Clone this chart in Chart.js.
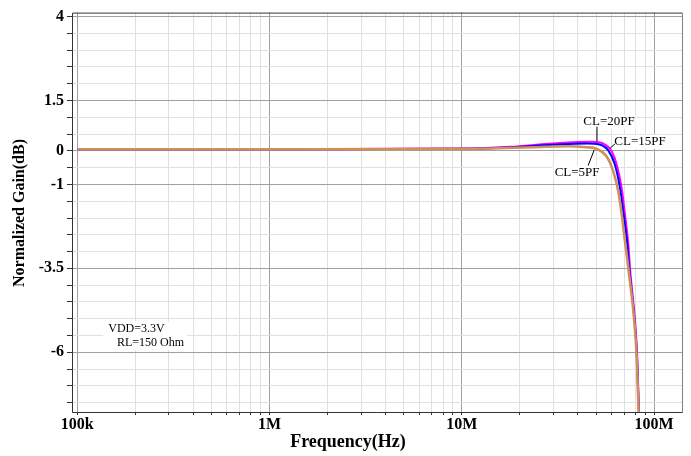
<!DOCTYPE html>
<html><head><meta charset="utf-8">
<script src="https://cdn.jsdelivr.net/npm/chart.js@4"></script>
<style>html,body{margin:0;padding:0;background:#fff}canvas{display:block}</style>
</head><body>
<canvas id="c" width="691" height="456"></canvas>
<script>
// ---- data (frequency in Hz, normalized gain in dB) ----
const freq20 = [1e5, 1e6, 1e7, 1.78e7, 2.98e7, 4.8e7, 5.43e7, 6.03e7, 6.4e7, 6.79e7, 7.06e7, 7.35e7, 7.5e7, 8.16e7, 8.36e7, 8.45e7];
const gain20 = [0.05, 0.05, 0.07, 0.12, 0.22, 0.27, 0.22, -0.02, -0.41, -1.11, -1.89, -2.78, -3.49, -6.0, -7.78, -8.3];

const freq15 = [1e5, 1e6, 1e7, 1.78e7, 2.98e7, 4.5e7, 5.2e7, 5.8e7, 6.25e7, 6.65e7, 6.95e7, 7.25e7, 7.43e7, 8.13e7, 8.34e7, 8.43e7];
const gain15 = [0.05, 0.05, 0.06, 0.10, 0.18, 0.22, 0.19, 0.0, -0.40, -1.10, -1.90, -2.75, -3.49, -6.0, -7.78, -8.3];

const freq5 = [1e5, 1e6, 1e7, 2.35e7, 3.53e7, 4.46e7, 5.03e7, 5.67e7, 6.14e7, 6.52e7, 6.79e7, 7.06e7, 7.35e7, 8.1e7, 8.32e7, 8.4e7];
const gain5 = [0.05, 0.05, 0.06, 0.11, 0.14, 0.11, 0.06, -0.17, -0.62, -1.21, -1.89, -2.69, -3.49, -6.0, -7.78, -8.3];

const seriesNames = ['CL=5PF', 'CL=15PF', 'CL=20PF'];

// ---- axes ----
const xDecades = [1e5, 1e6, 1e7, 1e8];
const xDecadeLabels = ['100k', '1M', '10M', '100M'];
const xMin = 9.39e4, xMax = 1.398e8;
const yLabeled = [4, 1.5, 0, -1, -3.5, -6];
const yMin = -7.78, yMax = 4.12, yStep = 0.5;

// ---- annotations (anchored in data units) ----
const noteLines = ['VDD=3.3V', 'RL=150 Ohm'];
const noteAnchors = [[1.45e5, -5.29], [1.61e5, -5.73]];
const curveLabelText = ['CL=20PF', 'CL=15PF', 'CL=5PF'];
const curveLabelAt = [[5.83e7, 0.86], [8.46e7, 0.27], [3.98e7, -0.645]];
const leaderFrom = [[5.05e7, 0.72], [6.27e7, 0.21], [4.54e7, -0.44]];
const leaderTo = [[5.05e7, 0.28], [5.91e7, 0.08], [4.88e7, 0.02]];

const xTickValues = [];
xDecades.forEach(d => {
  for (let m = 1; m <= 9; m++) {
    const v = d * m;
    if (v >= xMin && v <= xMax) xTickValues.push(v);
  }
});
const isDecade = v => xDecades.some(d => Math.abs(v / d - 1) < 1e-9);
const isYLab = v => yLabeled.some(l => Math.abs(v - l) < 1e-9);

const pts = (f, g) => f.map((x, i) => ({x, y: g[i]}));

const serif = 'Liberation Serif, Times New Roman, serif';

const deco = {
  id: 'deco',
  beforeDatasetsDraw(chart) {
    const {ctx, chartArea: a} = chart;
    ctx.save();
    ctx.lineWidth = 1;
    ctx.strokeStyle = '#333';
    ctx.beginPath();
    ctx.moveTo(a.left + 0.5, a.top + 0.5);
    ctx.lineTo(a.left + 0.5, a.bottom + 0.5);
    ctx.lineTo(a.right + 0.5, a.bottom + 0.5);
    ctx.moveTo(a.left + 0.5, a.top + 0.5);
    ctx.lineTo(a.right + 0.5, a.top + 0.5);
    ctx.stroke();
    ctx.strokeStyle = '#808080';
    ctx.beginPath();
    ctx.moveTo(a.right + 0.5, a.top + 0.5);
    ctx.lineTo(a.right + 0.5, a.bottom + 0.5);
    ctx.stroke();
    ctx.restore();
  },
  afterDraw(chart) {
    const {ctx, scales: {x, y}} = chart;
    const P = p => [x.getPixelForValue(p[0]), y.getPixelForValue(p[1])];
    ctx.save();
    // note box
    ctx.font = '12px ' + serif;
    const n0 = P(noteAnchors[0]), n1 = P(noteAnchors[1]);
    const w = Math.max(n0[0] + ctx.measureText(noteLines[0]).width, n1[0] + ctx.measureText(noteLines[1]).width);
    ctx.fillStyle = '#fff';
    ctx.fillRect(n0[0] - 5, n0[1] - 7, w - n0[0] + 8, n1[1] - n0[1] + 14);
    ctx.fillStyle = '#000';
    ctx.textBaseline = 'middle';
    ctx.textAlign = 'left';
    ctx.fillText(noteLines[0], n0[0], n0[1]);
    ctx.fillText(noteLines[1], n1[0], n1[1]);
    // curve labels
    ctx.font = '13px ' + serif;
    ctx.textAlign = 'center';
    curveLabelText.forEach((t, i) => {
      const p = P(curveLabelAt[i]);
      const tw = ctx.measureText(t).width;
      ctx.fillStyle = '#fff';
      ctx.fillRect(p[0] - tw / 2 - 1, p[1] - 7, tw + 2, 14);
      ctx.fillStyle = '#000';
      ctx.fillText(t, p[0], p[1]);
      const f = P(leaderFrom[i]), g = P(leaderTo[i]);
      ctx.strokeStyle = '#000';
      ctx.lineWidth = 1;
      ctx.beginPath();
      ctx.moveTo(f[0], f[1]);
      ctx.lineTo(g[0], g[1]);
      ctx.stroke();
    });
    // axis titles
    ctx.fillStyle = '#000';
    ctx.font = 'bold 18px ' + serif;
    ctx.textAlign = 'center';
    ctx.fillText('Frequency(Hz)', 348, 442);
    ctx.save();
    ctx.translate(20, 213);
    ctx.rotate(-Math.PI / 2);
    ctx.font = 'bold 16px ' + serif;
    ctx.fillText('Normalized Gain(dB)', 0, 0);
    ctx.restore();
    ctx.restore();
  }
};

new Chart(document.getElementById('c'), {
  type: 'line',
  data: {
    datasets: [
      {label: seriesNames[0], data: pts(freq5, gain5), borderColor: '#D0905C', borderWidth: 2.6},
      {label: seriesNames[1], data: pts(freq15, gain15), borderColor: '#0000FF', borderWidth: 2},
      {label: seriesNames[2], data: pts(freq20, gain20), borderColor: '#FF00FF', borderWidth: 2}
    ]
  },
  options: {
    responsive: false,
    animation: false,
    devicePixelRatio: 1,
    elements: {point: {radius: 0}, line: {cubicInterpolationMode: 'monotone', fill: false}},
    layout: {padding: {top: 10, right: 9, left: 0, bottom: 0}},
    plugins: {legend: {display: false}, tooltip: {enabled: false}},
    scales: {
      x: {
        type: 'logarithmic', min: xMin, max: xMax,
        afterBuildTicks: s => { s.ticks = xTickValues.map(v => ({value: v})); },
        afterFit: s => { s.height = 44; },
        border: {display: false},
        grid: {
          color: c => (c.tick && isDecade(c.tick.value)) ? '#a0a0a0' : '#e0e0e0',
          tickColor: '#333', tickLength: 3
        },
        ticks: {
          autoSkip: false, maxRotation: 0, padding: 0, color: '#000',
          font: {family: serif, size: 16, weight: 'bold'},
          callback: v => { const i = xDecades.findIndex(d => Math.abs(v / d - 1) < 1e-9); return i >= 0 ? xDecadeLabels[i] : ''; }
        }
      },
      y: {
        type: 'linear', min: yMin, max: yMax,
        afterFit: s => { s.width = 72; },
        border: {display: false},
        grid: {
          color: c => (c.tick && isYLab(c.tick.value)) ? '#a0a0a0' : '#e0e0e0',
          tickColor: '#333', tickLength: 5
        },
        ticks: {
          stepSize: yStep, includeBounds: false, autoSkip: false, padding: 3, color: '#000',
          font: {family: serif, size: 16, weight: 'bold'},
          callback: v => isYLab(v) ? String(yLabeled.find(l => Math.abs(v - l) < 1e-9)) : ''
        }
      }
    }
  },
  plugins: [deco]
});
</script>
</body></html>
